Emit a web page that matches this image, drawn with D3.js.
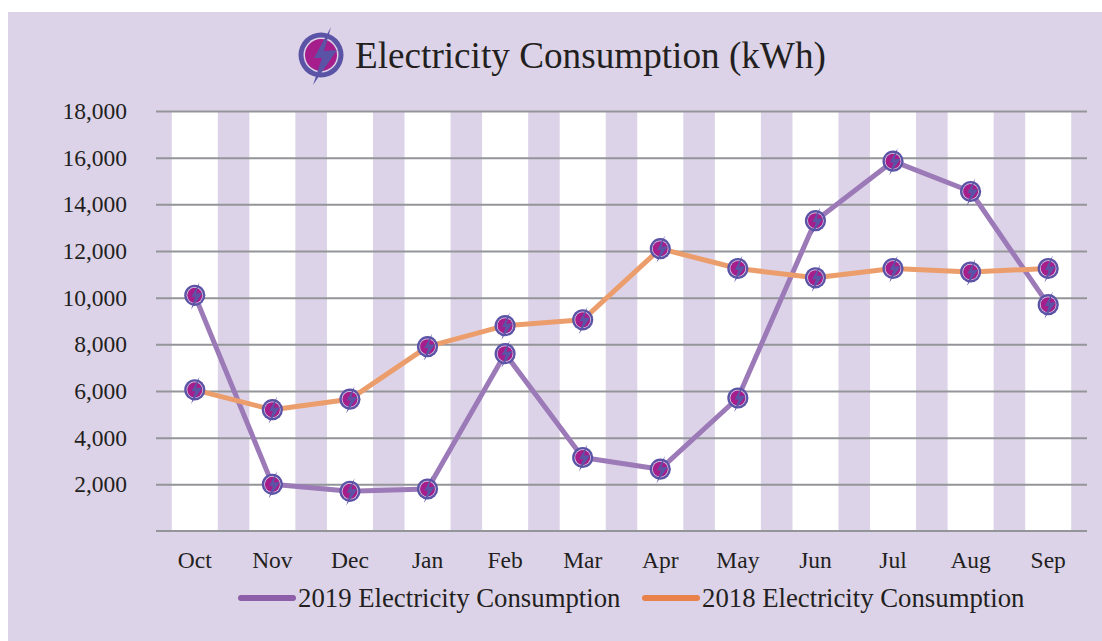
<!DOCTYPE html>
<html lang="en">

<head>
  <meta charset="utf-8">
  <title>Electricity Consumption</title>
  <script src="https://cdn.jsdelivr.net/npm/d3@7"></script>
  <style>
    html, body { margin: 0; padding: 0; background: #fff; }
    svg { display: block; }
    text { font-family: "Liberation Serif", serif; fill: #231f20; }
    .axis path { display: none; }
    .axis line { stroke: #939598; stroke-width: 2; }
  </style>
</head>

<body>
  <div id="chart"></div>

  <script type="text/javascript">
    var months = ["Oct", "Nov", "Dec", "Jan", "Feb", "Mar", "Apr", "May", "Jun", "Jul", "Aug", "Sep"];
    var values2019 = [10100, 2000, 1700, 1800, 7600, 3150, 2650, 5700, 13300, 15850, 14550, 9700];
    var values2018 = [6050, 5200, 5650, 7900, 8800, 9050, 12100, 11250, 10850, 11250, 11100, 11250];
    var yTicks = [2000, 4000, 6000, 8000, 10000, 12000, 14000, 16000, 18000];
    var seriesNames = ["2019 Electricity Consumption", "2018 Electricity Consumption"];

    var panelColor = "#dcd3e8";
    var line2019 = "#9c7ab8";
    var line2018 = "#ec9d6c";

    var plotLeft = 156, plotRight = 1087, plotTop = 111, plotBottom = 531;

    var svg = d3.select("#chart").append("svg")
      .attr("width", 1102)
      .attr("height", 641);

    svg.append("rect")
      .attr("x", 8).attr("y", 12)
      .attr("width", 1094).attr("height", 629)
      .attr("fill", panelColor);

    var x = d3.scaleBand().domain(months).range([plotLeft, plotRight]);
    var y = d3.scaleLinear().domain([0, 18000]).range([plotBottom, plotTop]);

    // icon used for the title and every point
    var defs = svg.append("defs");
    var icon = defs.append("g").attr("id", "bolt");
    icon.append("circle").attr("r", 22.5).attr("fill", "#5b53a6");
    icon.append("circle").attr("r", 17.5).attr("fill", panelColor);
    icon.append("circle").attr("r", 16).attr("fill", "#a51e8c");
    icon.append("path")
      .attr("d", "M10 -28 L-7 3 L1 3 L-8 30 L16 -5 L3 -4 Z")
      .attr("fill", "#5b53a6");

    // white stripes
    svg.append("g").selectAll("rect")
      .data(months)
      .join("rect")
      .attr("x", d => x(d) + x.bandwidth() / 2 - 23)
      .attr("y", plotTop)
      .attr("width", 46)
      .attr("height", plotBottom - plotTop)
      .attr("fill", "#fff");

    // y axis with full width grid lines
    var yAxis = d3.axisLeft(y)
      .tickValues(yTicks)
      .tickFormat(d3.format(","))
      .tickSize(-(plotRight - plotLeft))
      .tickPadding(29);
    svg.append("g")
      .attr("class", "axis")
      .attr("transform", "translate(" + plotLeft + ",0)")
      .call(yAxis)
      .selectAll("text")
      .style("font-size", "23.5px");

    var xAxis = d3.axisBottom(x).tickSize(0).tickPadding(20);
    var xg = svg.append("g")
      .attr("class", "axis")
      .attr("transform", "translate(0," + plotBottom + ")")
      .call(xAxis);
    xg.selectAll("text").style("font-size", "23.5px");
    xg.append("line")
      .attr("x1", plotLeft).attr("x2", plotRight)
      .attr("y1", 0).attr("y2", 0);

    // lines and icons
    var line = d3.line()
      .x((d, i) => x(months[i]) + x.bandwidth() / 2)
      .y(d => y(d));

    function drawSeries(values, color) {
      svg.append("path")
        .datum(values)
        .attr("d", line)
        .attr("fill", "none")
        .attr("stroke", color)
        .attr("stroke-width", 5)
        .attr("stroke-linejoin", "round");
    }

    drawSeries(values2019, line2019);
    drawSeries(values2018, line2018);

    function drawPoints(values) {
      svg.append("g").selectAll("use")
        .data(values)
        .join("use")
        .attr("href", "#bolt")
        .attr("transform", (d, i) => "translate(" + (x(months[i]) + x.bandwidth() / 2) + "," + y(d) + ") scale(0.47)");
    }

    drawPoints(values2019);
    drawPoints(values2018);

    // title
    svg.append("use")
      .attr("href", "#bolt")
      .attr("transform", "translate(321,55)");
    svg.append("text")
      .attr("x", 355).attr("y", 68)
      .style("font-size", "37.2px")
      .text("Electricity Consumption (kWh)");

    // legend
    var legendX = [239, 643];
    var legendColors = ["#8c5fa8", "#e8814a"];
    var legend = svg.append("g").selectAll("g")
      .data(seriesNames)
      .join("g")
      .attr("transform", (d, i) => "translate(" + legendX[i] + ",598)");
    legend.append("line")
      .attr("x1", 2).attr("x2", 54)
      .attr("stroke", (d, i) => legendColors[i])
      .attr("stroke-width", 6)
      .attr("stroke-linecap", "round");
    legend.append("text")
      .attr("x", 59).attr("y", 9)
      .style("font-size", "26.75px")
      .text(d => d);
  </script>
</body>

</html>
